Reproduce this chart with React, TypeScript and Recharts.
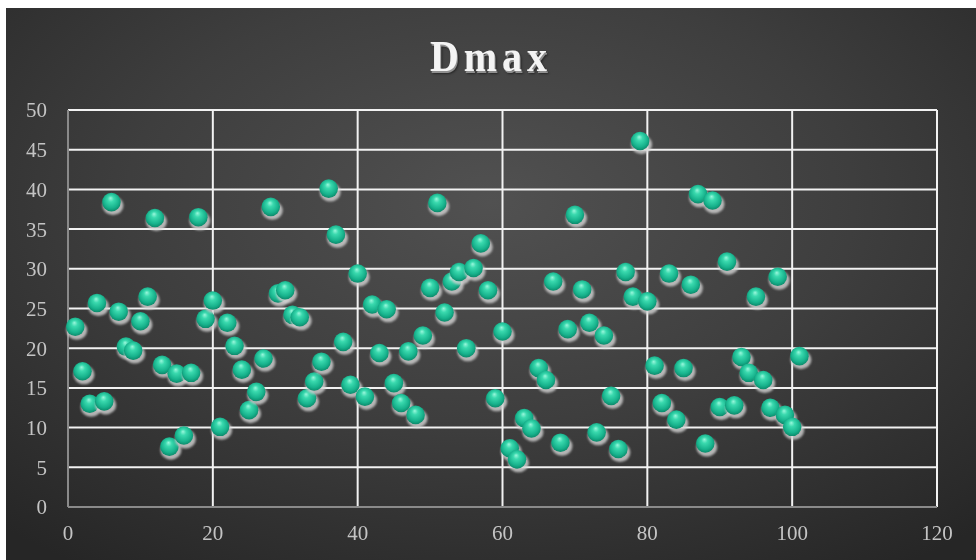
import * as React from 'react';
import { ScatterChart, CartesianGrid, XAxis, YAxis, Scatter } from 'recharts';

// sample number (x) and Dmax value (y)
const sampleNo = [
    1, 2, 3, 4, 5, 6, 7, 8, 9, 10, 11, 12, 13, 14, 15, 16, 17, 18, 19, 20,
    21, 22, 23, 24, 25, 26, 27, 28, 29, 30, 31, 32, 33, 34, 35, 36, 37, 38, 39, 40,
    41, 42, 43, 44, 45, 46, 47, 48, 49, 50, 51, 52, 53, 54, 55, 56, 57, 58, 59, 60,
    61, 62, 63, 64, 65, 66, 67, 68, 69, 70, 71, 72, 73, 74, 75, 76, 77, 78, 79, 80,
    81, 82, 83, 84, 85, 86, 87, 88, 89, 90, 91, 92, 93, 94, 95, 96, 97, 98, 99, 100,
    101
];
const dmax = [
    22.7, 17.1, 13.0, 25.7, 13.3, 38.4, 24.6, 20.2, 19.7, 23.4,
    26.5, 36.4, 17.9, 7.6, 16.8, 9.0, 16.9, 36.5, 23.7, 26.0,
    10.1, 23.2, 20.3, 17.3, 12.2, 14.5, 18.7, 37.8, 26.9, 27.3,
    24.2, 23.9, 13.7, 15.8, 18.3, 40.1, 34.3, 20.8, 15.4, 29.4,
    13.9, 25.5, 19.4, 24.9, 15.6, 13.1, 19.6, 11.6, 21.6, 27.6,
    38.3, 24.5, 28.4, 29.6, 20.0, 30.1, 33.2, 27.3, 13.7, 22.1,
    7.4, 6.0, 11.2, 9.9, 17.5, 16.0, 28.4, 8.1, 22.4, 36.8,
    27.4, 23.2, 9.4, 21.6, 14.0, 7.3, 29.6, 26.5, 46.1, 25.9,
    17.8, 13.1, 29.4, 11.0, 17.5, 28.0, 39.4, 8.0, 38.6, 12.6,
    30.9, 12.8, 18.9, 16.9, 26.5, 16.0, 12.5, 29.0, 11.6, 10.1,
    19.0
];
const xTicks = [0, 20, 40, 60, 80, 100, 120];
const yTicks = [0, 5, 10, 15, 20, 25, 30, 35, 40, 45, 50];

const data = sampleNo.map((x, i) => ({ x: x, y: dmax[i] }));

const serif = "'Times New Roman', 'Liberation Serif', serif";

const Ball = (props: any) => {
    const { cx, cy } = props;
    if (cx == null || cy == null) return null;
    return (
        <g>
            <ellipse cx={cx + 1.5} cy={cy + 3.5} rx={10.5} ry={9.5} fill="#d4d4d4" opacity={0.8} filter="url(#ballShadow)" />
            <circle cx={cx} cy={cy} r={9.3} fill="url(#ballFill)" />
        </g>
    );
};

export default function App() {
    return (
        <div style={{
            position: 'fixed', left: 6, top: 8, width: 970, height: 552,
            background: 'radial-gradient(ellipse 75% 80% at 50% 35%, #515151 0%, #3e3e3e 50%, #262626 100%)'
        }}>
            <div style={{
                position: 'absolute', left: 0, width: 970, top: 28, textAlign: 'center',
                fontFamily: serif, fontWeight: 'bold', fontSize: 40, lineHeight: '40px',
                letterSpacing: 5, color: '#f4f4f4', transform: 'scaleY(1.12)',
                textShadow: '1px 2px 0 #8f8f8f, 2px 3px 2px rgba(0,0,0,0.45)'
            }}>Dmax</div>
            <ScatterChart width={970} height={552} margin={{ top: 102, right: 39, bottom: 0, left: 0 }}>
                <defs>
                    <radialGradient id="ballFill" cx="50%" cy="45%" r="55%" fx="45%" fy="28%">
                        <stop offset="0%" stopColor="#9af7dc" />
                        <stop offset="30%" stopColor="#3ad9ae" />
                        <stop offset="75%" stopColor="#17b28c" />
                        <stop offset="100%" stopColor="#0c8a6b" />
                    </radialGradient>
                    <filter id="ballShadow" x="-50%" y="-50%" width="200%" height="200%">
                        <feGaussianBlur stdDeviation="1" />
                    </filter>
                </defs>
                <CartesianGrid stroke="#f2f2f2" strokeWidth={2} />
                <XAxis type="number" dataKey="x" domain={[0, 120]} ticks={xTicks} height={53}
                    axisLine={{ stroke: '#8a8a8a', strokeWidth: 2 }} tickLine={false} tickSize={0} tickMargin={18}
                    tick={{ fill: '#c4c4c4', fontSize: 21, fontFamily: serif }} />
                <YAxis type="number" dataKey="y" domain={[0, 50]} ticks={yTicks} width={62}
                    axisLine={{ stroke: '#8a8a8a', strokeWidth: 2 }} tickLine={false} tickSize={0} tickMargin={21}
                    tick={{ fill: '#c4c4c4', fontSize: 21, fontFamily: serif }} />
                <Scatter data={data} shape={<Ball />} isAnimationActive={false} />
            </ScatterChart>
        </div>
    );
}
